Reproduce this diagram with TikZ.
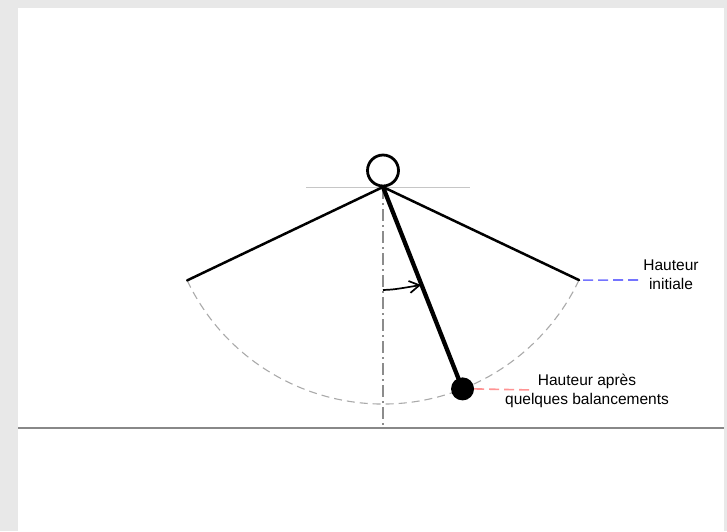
\documentclass[tikz,border=0pt]{standalone}
\usepackage{fontspec}
\setmainfont{Liberation Sans}
\usetikzlibrary{arrows.meta}

\definecolor{frame}{HTML}{E8E8E8}
\definecolor{swinggray}{HTML}{AAAAAA}
\definecolor{axisgray}{HTML}{8C8C8C}
\definecolor{floorgray}{HTML}{888888}
\definecolor{levelblue}{HTML}{7474FF}
\definecolor{levelred}{HTML}{FF9494}

\begin{document}
\begin{tikzpicture}[x=1pt, y=-1pt,
    string/.style={line width=2.5pt, line cap=round},
    rod/.style={line width=4.3pt},
    swing/.style={draw=swinggray, line width=1.1pt, dash pattern=on 8pt off 5pt},
    axis/.style={draw=axisgray, line width=1.2pt, dash pattern=on 12pt off 4pt on 2pt off 4pt},
    level/.style={line width=1.6pt, dash pattern=on 10pt off 5pt},
    angle arrow/.style={-{Straight Barb[length=10pt, width=12pt]}, line width=1.7pt},
    lbl/.style={align=center, inner sep=0pt, font=\fontsize{15.5}{18.5}\selectfont}
]
% background frame
\fill[frame] (0,0) rectangle (727,531);
\fill[white] (18,8) rectangle (724,531);

% pivot and swing
\coordinate (pivot) at (383,187);
\node[circle, draw, line width=2.8pt, minimum size=31pt, inner sep=0pt] (hook) at (383,170.5) {};
\draw[draw=gray!45, line width=0.8pt] (306,187) -- (470,187);

\coordinate (leftend) at ([shift={(154.5:217)}]pivot);
\coordinate (rightend) at ([shift={(25.4:217)}]pivot);
\coordinate (floor) at (383,428);

\draw[swing] (leftend) arc[start angle=154.5, end angle=25.4, radius=217];
\draw[axis] (pivot) -- (floor);
\draw[draw=floorgray, line width=1.6pt] (18,428) -- (724,428);

\draw[string] (pivot) -- (leftend);
\draw[string] (pivot) -- (rightend);

\node[circle, fill, inner sep=0pt, minimum size=23pt] (bob) at ([shift={(68.5:217)}]pivot) {};
\draw[rod] (pivot) -- (bob.center);

% angle
\coordinate (astart) at (383,290);
\coordinate (aend) at (421,285);
\draw[angle arrow] (astart) .. controls (394,289.5) .. (aend);

% heights
\node[lbl] (initlbl) at (671,274.5) {Hauteur\\initiale};
\coordinate (initmark) at (640,280);
\draw[level, draw=levelblue] ([xshift=4pt]rightend) -- (initmark);

\node[lbl] (afterlbl) at (587,391) {Hauteur après\\quelques balancements};
\coordinate (aftermark) at (533,390);
\draw[level, draw=levelred] (bob.east) -- (aftermark);
\end{tikzpicture}
\end{document}
